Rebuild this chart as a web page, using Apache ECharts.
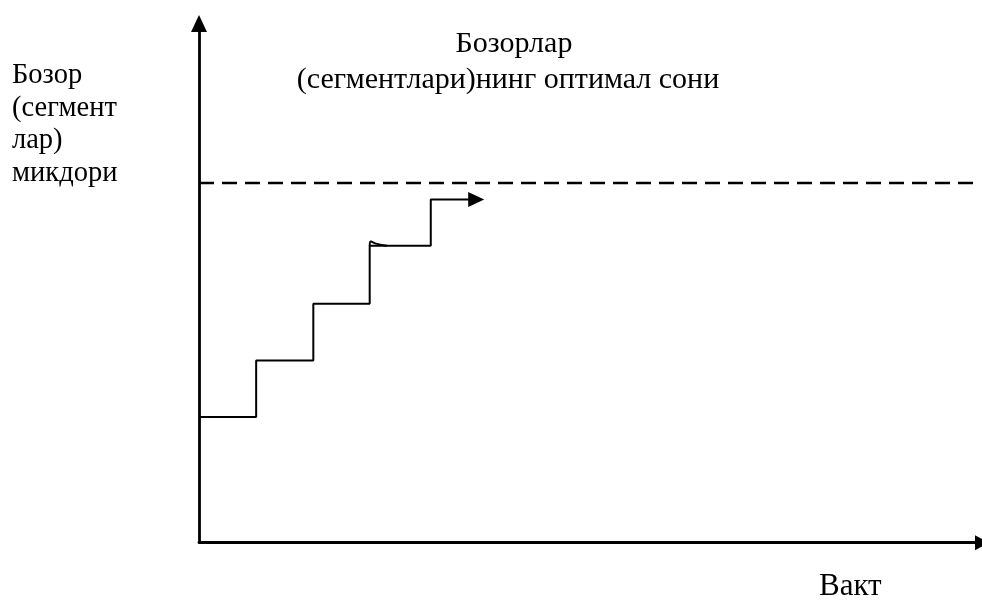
<!DOCTYPE html>
<html>
<head>
<meta charset="utf-8">
<script src="https://cdn.jsdelivr.net/npm/echarts@6/dist/echarts.min.js"></script>
<style>
html,body{margin:0;padding:0;background:#fff;}
#chart{width:982px;height:601px;}
</style>
</head>
<body>
<div id="chart"></div>
<script>
// Data (schematic units: x = time 0..100, y = quantity 0..100)
const stepTimes = [0, 7.3, 14.6, 21.8, 29.6, 35.4];
const stepLevels = [24.2, 35.1, 46.0, 57.2, 66.1, 66.1];
// small hand-drawn hook at the start of the 4th step
const hookTimes = [21.8, 21.95, 22.6, 24.0];
const hookLevels = [57.2, 58.0, 57.6, 57.2];
const optimalLevel = 69.3;
const optimalSpan = [0, 99.2];
const yAxisLabelLines = ['Бозор', '(сегмент', 'лар)', 'микдори'];
const titleLine1 = 'Бозорлар';
const titleLine2 = '(сегментлари)нинг оптимал сони';
const xAxisLabel = 'Вакт';

const chart = echarts.init(document.getElementById('chart'), null, {renderer: 'canvas'});

const stepData = stepTimes.map((t, i) => {
  const item = {value: [t, stepLevels[i]]};
  if (i === stepTimes.length - 1) {
    item.symbol = 'triangle';
    item.symbolSize = [15, 16];
    item.symbolRotate = -90;
    item.itemStyle = {color: '#000'};
  }
  return item;
});

const font = '"Liberation Serif", "Times New Roman", serif';

const option = {
  backgroundColor: '#fff',
  animation: false,
  grid: {left: 199, right: 0, top: 23.5, bottom: 58.3, containLabel: false},
  xAxis: {
    type: 'value', min: 0, max: 100,
    axisLine: {show: true, onZero: false, lineStyle: {color: '#000', width: 2.8},
      symbol: ['none', 'triangle'], symbolSize: [15, 14]},
    axisTick: {show: false}, axisLabel: {show: false}, splitLine: {show: false}
  },
  yAxis: {
    type: 'value', min: 0, max: 100,
    axisLine: {show: true, onZero: false, lineStyle: {color: '#000', width: 2.8},
      symbol: ['none', 'triangle'], symbolSize: [16, 17]},
    axisTick: {show: false}, axisLabel: {show: false}, splitLine: {show: false}
  },
  series: [
    {
      type: 'line',
      data: optimalSpan.map(t => [t, optimalLevel]),
      symbol: 'none',
      lineStyle: {color: '#000', width: 2.5, type: [15, 8]},
      silent: true
    },
    {
      type: 'line',
      step: 'end',
      data: stepData,
      symbol: 'none',
      showSymbol: true,
      lineStyle: {color: '#000', width: 2},
      silent: true
    },
    {
      type: 'line',
      smooth: 0.5,
      data: hookTimes.map((t, i) => [t, hookLevels[i]]),
      symbol: 'none',
      lineStyle: {color: '#000', width: 2},
      silent: true
    }
  ],
  graphic: [
    {
      type: 'text', left: 12, top: 59,
      style: {text: yAxisLabelLines.join('\n'), font: '28.5px ' + font, fill: '#000', lineHeight: 32.7}
    },
    {
      type: 'text', x: 514, y: 29,
      style: {text: titleLine1, font: '30px ' + font, fill: '#000', align: 'center'}
    },
    {
      type: 'text', x: 508, y: 65,
      style: {text: titleLine2, font: '30px ' + font, fill: '#000', align: 'center'}
    },
    {
      type: 'text', left: 819, top: 571,
      style: {text: xAxisLabel, font: '31px ' + font, fill: '#000'}
    }
  ]
};
chart.setOption(option);
</script>
</body>
</html>
